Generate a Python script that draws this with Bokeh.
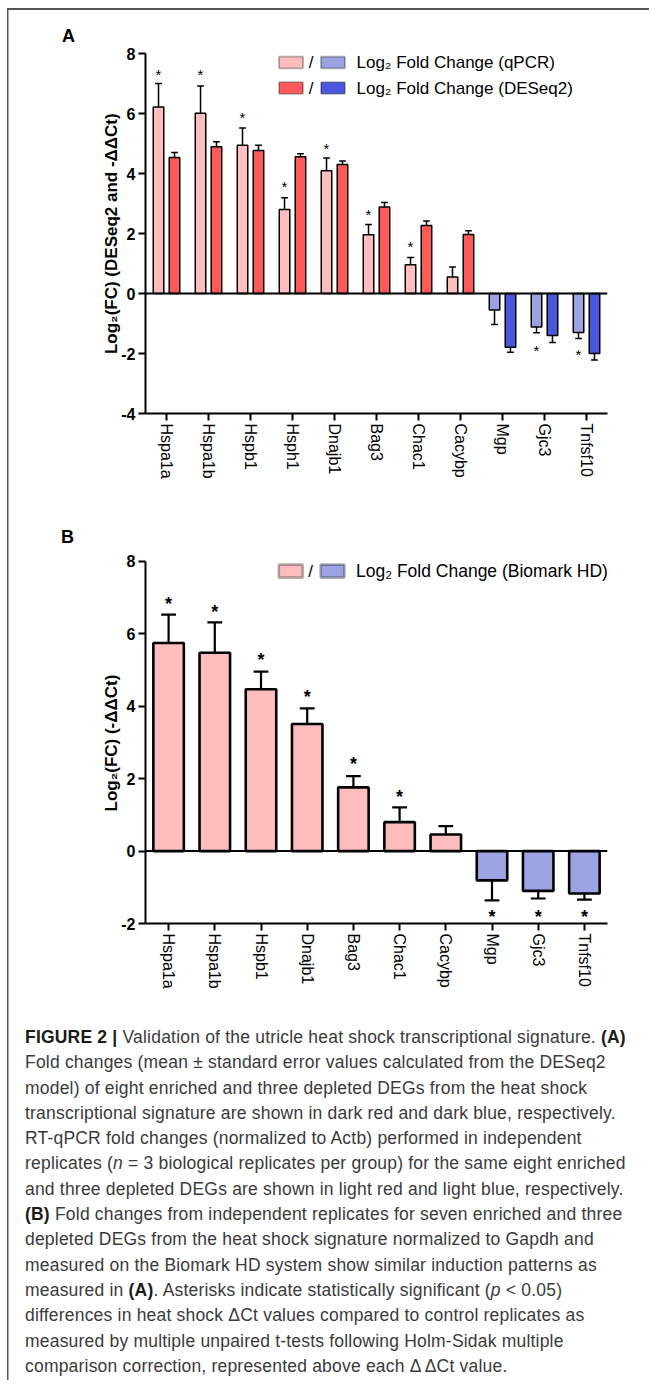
from bokeh.plotting import figure
from bokeh.models import (FactorRange, Range1d, FixedTicker, Span, Label,
                          ColumnDataSource, Div, BoxAnnotation)
from bokeh.transform import dodge
from bokeh.layouts import column
from bokeh.embed import file_html
from bokeh.resources import INLINE
from bokeh.core.properties import value

# ---------------- data ----------------
genes_a = ["Hspa1a", "Hspa1b", "Hspb1", "Hsph1", "Dnajb1", "Bag3", "Chac1",
           "Cacybp", "Mgp", "Gjc3", "Tnfsf10"]
qpcr_a = [6.22, 6.01, 4.94, 2.80, 4.09, 1.96, 0.96, 0.55, -0.55, -1.12, -1.30]
qpcr_se_a = [0.78, 0.91, 0.58, 0.39, 0.43, 0.34, 0.24, 0.33, 0.48, 0.19, 0.20]
deseq_a = [4.53, 4.89, 4.77, 4.56, 4.30, 2.88, 2.27, 1.97, -1.79, -1.40, -2.00]
deseq_se_a = [0.17, 0.17, 0.17, 0.10, 0.12, 0.15, 0.15, 0.12, 0.17, 0.23, 0.22]
star_genes_a = ["Hspa1a", "Hspa1b", "Hspb1", "Hsph1", "Dnajb1", "Bag3", "Chac1", "Gjc3", "Tnfsf10"]
star_y_a = [7.38, 7.38, 5.95, 3.62, 4.90, 2.70, 1.63, -1.82, -1.97]

genes_b = ["Hspa1a", "Hspa1b", "Hspb1", "Dnajb1", "Bag3", "Chac1", "Cacybp",
           "Mgp", "Gjc3", "Tnfsf10"]
biomark_b = [5.75, 5.48, 4.47, 3.51, 1.76, 0.80, 0.46, -0.81, -1.10, -1.17]
biomark_se_b = [0.78, 0.84, 0.49, 0.43, 0.31, 0.41, 0.23, 0.55, 0.21, 0.17]
star_genes_b = ["Hspa1a", "Hspa1b", "Hspb1", "Dnajb1", "Bag3", "Chac1", "Mgp", "Gjc3", "Tnfsf10"]
star_y_b = [6.89, 6.67, 5.33, 4.32, 2.45, 1.56, -1.76, -1.76, -1.76]

yticks_a = [-4, -2, 0, 2, 4, 6, 8]
yticks_b = [-2, 0, 2, 4, 6, 8]

LIGHT_RED = "#FFBDBD"
DARK_RED = "#FF5A5A"
LIGHT_BLUE = "#9CA3E2"
DARK_BLUE = "#4A57DC"

FONT = "Liberation Sans"
NBSP = "\u00a0"


def ends(vals, ses):
    return [v + (s if v >= 0 else -s) for v, s in zip(vals, ses)]


def style_axes(p, yticks, ybounds):
    p.xgrid.visible = False
    p.ygrid.visible = False
    p.outline_line_color = None
    p.background_fill_color = None
    p.border_fill_color = None
    for ax in (p.xaxis[0], p.yaxis[0]):
        ax.axis_line_width = 2
        ax.axis_line_color = "black"
        ax.major_tick_line_width = 2
        ax.major_tick_line_color = "black"
        ax.major_tick_in = 0
        ax.major_tick_out = 7
        ax.minor_tick_line_color = None
        ax.major_label_text_color = "black"
        ax.major_label_text_font = FONT
    p.yaxis[0].ticker = FixedTicker(ticks=yticks)
    p.yaxis[0].major_label_overrides = {t: str(t) for t in yticks}
    p.yaxis[0].bounds = ybounds
    p.yaxis[0].major_label_text_font_style = "bold"
    p.yaxis[0].major_label_text_font_size = "16px"
    p.yaxis[0].major_label_standoff = 3
    p.yaxis[0].axis_label_text_font = FONT
    p.yaxis[0].axis_label_text_font_style = "bold"
    p.yaxis[0].axis_label_text_font_size = "17px"
    p.yaxis[0].axis_label_text_color = "black"
    p.xaxis[0].major_label_orientation = "vertical"
    p.xaxis[0].major_label_text_font_size = "16px"
    p.xaxis[0].major_label_standoff = 3
    p.add_layout(Span(location=0, dimension="width", line_color="black", line_width=2))


def panel_letter(letter, left, top, height):
    html = ("<div style=\"font-family:'Liberation Sans',Arial,sans-serif;font-weight:bold;"
            "font-size:18px;line-height:18px;color:#000;padding:%dpx 0 0 %dpx;\">%s</div>"
            % (top, left, letter))
    return Div(text=html, width=649, height=height, margin=0)


# ---------------- Panel A ----------------
head_a = panel_letter("A", 62, 27, 44)

pa = figure(width=649, height=456, x_range=FactorRange(*genes_a, range_padding=0),
            y_range=Range1d(-4, 8.3), output_backend="svg", toolbar_location=None,
            min_border_left=145, min_border_right=42, min_border_top=0, min_border_bottom=87)

src_a = ColumnDataSource(dict(
    g=genes_a, q=qpcr_a, qe=ends(qpcr_a, qpcr_se_a), d=deseq_a, de=ends(deseq_a, deseq_se_a),
    qc=[LIGHT_RED if v >= 0 else LIGHT_BLUE for v in qpcr_a],
    dc=[DARK_RED if v >= 0 else DARK_BLUE for v in deseq_a]))

OFF = 0.19
W = 0.25
CAP = 0.08
for off, val, err, col in ((-OFF, "q", "qe", "qc"), (OFF, "d", "de", "dc")):
    pa.segment(x0=dodge("g", off, range=pa.x_range), x1=dodge("g", off, range=pa.x_range),
               y0=val, y1=err, source=src_a, line_color="black", line_width=1.5)
    pa.segment(x0=dodge("g", off - CAP, range=pa.x_range), x1=dodge("g", off + CAP, range=pa.x_range),
               y0=err, y1=err, source=src_a, line_color="black", line_width=1.5)
    pa.vbar(x=dodge("g", off, range=pa.x_range), top=val, bottom=0, width=W, source=src_a,
            fill_color=col, line_color="black", line_width=1.5)

star_a = ColumnDataSource(dict(g=star_genes_a, y=star_y_a, t=["*"] * len(star_genes_a)))
pa.text(x=dodge("g", -OFF, range=pa.x_range), y="y", text="t", source=star_a,
        text_align="center", text_baseline="middle", text_font=value(FONT),
        text_font_size="15px", text_color="black", y_offset=2)

style_axes(pa, yticks_a, (-4, 8))
pa.yaxis[0].axis_label = "Log₂(FC) (DESeq2 and -ΔΔCt)" + NBSP * 2
pa.yaxis[0].axis_label_standoff = -3

A_LEFT, A_STEP, A_ZERO, A_PPU = 145.0, 42.0, 293.0, 30.0


def ax_(px):
    return (px - A_LEFT) / A_STEP


def ay_(py):
    return (A_ZERO - py) / A_PPU


for cy, c1, c2, lab in ((62.0, LIGHT_RED, LIGHT_BLUE, "Log₂ Fold Change (qPCR)"),
                        (87.5, DARK_RED, DARK_BLUE, "Log₂ Fold Change (DESeq2)")):
    for x0, x1, c in ((278.6, 302.5, c1), (320.5, 344.4, c2)):
        pa.add_layout(BoxAnnotation(left=ax_(x0), right=ax_(x1), bottom=ay_(cy + 5.8), top=ay_(cy - 5.8),
                                    fill_color=c, fill_alpha=1, line_color="black", line_width=1.8,
                                    level="overlay"))
    pa.add_layout(Label(x=ax_(310.5), y=ay_(cy), text="/", text_font=FONT, text_font_size="17px",
                        text_align="center", text_baseline="middle", text_color="black"))
    pa.add_layout(Label(x=ax_(356), y=ay_(cy), text=lab, text_font=FONT, text_font_size="17px",
                        text_align="left", text_baseline="middle", text_color="black"))

# ---------------- Panel B ----------------
head_b = panel_letter("B", 61, 28, 48)

pb = figure(width=649, height=457, x_range=FactorRange(*genes_b, range_padding=0),
            y_range=Range1d(-2, 8.359), output_backend="svg", toolbar_location=None,
            min_border_left=145, min_border_right=41, min_border_top=0, min_border_bottom=82)

src_b = ColumnDataSource(dict(
    g=genes_b, v=biomark_b, e=ends(biomark_b, biomark_se_b),
    c=[LIGHT_RED if v >= 0 else LIGHT_BLUE for v in biomark_b]))
pb.segment(x0="g", x1="g", y0="v", y1="e", source=src_b, line_color="black", line_width=2.2)
pb.segment(x0=dodge("g", -0.16, range=pb.x_range), x1=dodge("g", 0.16, range=pb.x_range),
           y0="e", y1="e", source=src_b, line_color="black", line_width=2.2)
pb.vbar(x="g", top="v", bottom=0, width=0.66, source=src_b, fill_color="c",
        line_color="black", line_width=2.6)

star_b = ColumnDataSource(dict(g=star_genes_b, y=star_y_b, t=["*"] * len(star_genes_b)))
pb.text(x="g", y="y", text="t", source=star_b, text_align="center", text_baseline="middle",
        text_font=value(FONT), text_font_size="18px", text_font_style="bold",
        text_color="black", y_offset=2)

style_axes(pb, yticks_b, (-2, 8))
pb.yaxis[0].axis_label = "Log₂(FC) (-ΔΔCt)" + NBSP * 3
pb.yaxis[0].axis_label_standoff = -3

B_LEFT, B_STEP, B_ZERO, B_PPU = 145.0, 46.3, 850.3, 36.2


def bx_(px):
    return (px - B_LEFT) / B_STEP


def by_(py):
    return (B_ZERO - py) / B_PPU


cy = 570.3
for x0, x1, c in ((278.6, 302.5, LIGHT_RED), (320.5, 344.4, LIGHT_BLUE)):
    pb.add_layout(BoxAnnotation(left=bx_(x0), right=bx_(x1), bottom=by_(cy + 6.5), top=by_(cy - 6.5),
                                fill_color=c, fill_alpha=1, line_color="black", line_width=2.6,
                                level="overlay"))
pb.add_layout(Label(x=bx_(310.5), y=by_(cy), text="/", text_font=FONT, text_font_size="17px",
                    text_align="center", text_baseline="middle", text_color="black"))
pb.add_layout(Label(x=bx_(356), y=by_(cy), text="Log₂ Fold Change (Biomark HD)", text_font=FONT,
                    text_font_size="17.5px", text_align="left", text_baseline="middle",
                    text_color="black"))

# ---------------- Caption ----------------
B_ = "<b style='color:#1a1a1a'>%s</b>"
caption_lines = [
    B_ % "FIGURE 2 |" + " Validation of the utricle heat shock transcriptional signature. " + B_ % "(A)",
    "Fold changes (mean ± standard error values calculated from the DESeq2",
    "model) of eight enriched and three depleted DEGs from the heat shock",
    "transcriptional signature are shown in dark red and dark blue, respectively.",
    "RT-qPCR fold changes (normalized to Actb) performed in independent",
    "replicates (<i>n</i> = 3 biological replicates per group) for the same eight enriched",
    "and three depleted DEGs are shown in light red and light blue, respectively.",
    B_ % "(B)" + " Fold changes from independent replicates for seven enriched and three",
    "depleted DEGs from the heat shock signature normalized to Gapdh and",
    "measured on the Biomark HD system show similar induction patterns as",
    "measured in " + B_ % "(A)" + ". Asterisks indicate statistically significant (<i>p</i> &lt; 0.05)",
    "differences in heat shock ΔCt values compared to control replicates as",
    "measured by multiple unpaired t-tests following Holm-Sidak multiple",
    "comparison correction, represented above each Δ ΔCt value.",
]
cap_html = ("<div style=\"font-family:'Liberation Sans',Arial,sans-serif;font-size:17.5px;"
            "letter-spacing:0.2px;line-height:25.3px;color:#3a3a3a;white-space:nowrap;"
            "padding:20px 0 0 25px;\">" + "<br>".join(caption_lines) + "</div>")
cap = Div(text=cap_html, width=649, height=375, margin=0)

layout = column(head_a, pa, head_b, pb, cap, spacing=0, styles={
    "background-image": "linear-gradient(#555,#555), linear-gradient(#555,#555)",
    "background-size": "100% 2px, 1.5px 100%",
    "background-repeat": "no-repeat",
    "background-position": "7px 8px, 7px 8px",
})

open("out.html", "w").write(file_html(layout, INLINE))
